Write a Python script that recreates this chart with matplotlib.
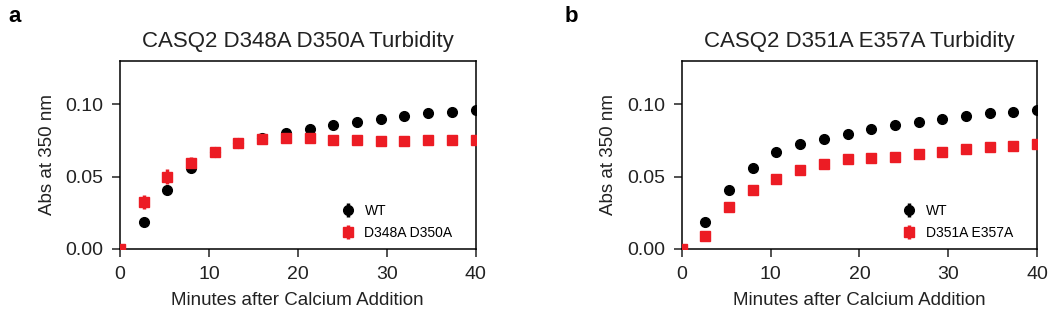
import matplotlib
matplotlib.use("Agg")
import matplotlib.pyplot as plt

plt.rcParams['font.family'] = ['Liberation Sans', 'DejaVu Sans']

# time points (minutes after calcium addition)
minutes = [0, 2.67, 5.33, 8.0, 10.67, 13.33, 16.0, 18.67, 21.33, 24.0,
           26.67, 29.33, 32.0, 34.67, 37.33, 40.0]

# panel a
wt_a = [0.0, 0.0188, 0.0407, 0.0563, 0.0668, 0.0731, 0.0765, 0.0802, 0.0830, 0.0857,
        0.0878, 0.0897, 0.0920, 0.0938, 0.0950, 0.0962]
wt_a_err = [0.0, 0.001, 0.001, 0.001, 0.001, 0.001, 0.001, 0.001, 0.001, 0.001,
            0.001, 0.001, 0.001, 0.001, 0.001, 0.001]
mut_a = [0.0, 0.0326, 0.0500, 0.0598, 0.0671, 0.0733, 0.0761, 0.0770, 0.0768, 0.0756,
         0.0752, 0.0747, 0.0750, 0.0752, 0.0752, 0.0755]
mut_a_err = [0.0, 0.005, 0.005, 0.0035, 0.003, 0.0025, 0.0015, 0.0015, 0.001, 0.001,
             0.001, 0.001, 0.001, 0.001, 0.001, 0.001]

# panel b
wt_b = [0.0, 0.0188, 0.0407, 0.0563, 0.0669, 0.0729, 0.0763, 0.0798, 0.0828, 0.0855,
        0.0878, 0.0899, 0.0920, 0.0938, 0.0950, 0.0962]
wt_b_err = wt_a_err
mut_b = [0.0, 0.0092, 0.0287, 0.0405, 0.0483, 0.0543, 0.0589, 0.0625, 0.0632, 0.0637,
         0.0655, 0.0671, 0.0688, 0.0702, 0.0714, 0.0726]
mut_b_err = [0.0, 0.001, 0.001, 0.0025, 0.001, 0.001, 0.001, 0.002, 0.001, 0.001,
             0.001, 0.001, 0.001, 0.001, 0.001, 0.001]

panels = [
    ("a", "CASQ2 D348A D350A Turbidity", "D348A D350A", wt_a, wt_a_err, mut_a, mut_a_err),
    ("b", "CASQ2 D351A E357A Turbidity", "D351A E357A", wt_b, wt_b_err, mut_b, mut_b_err),
]

red = "#ec1c24"

fig = plt.figure(figsize=(10.5, 3.11), dpi=100)
lefts = [0.1143, 0.6492]
letter_x = [0.008, 0.538]

for i, (letter, title, mlabel, wt, wte, mut, mute) in enumerate(panels):
    ax = fig.add_axes([lefts[i], 0.1994, 0.3386, 0.6045])
    ax.errorbar(minutes, wt, yerr=wte, fmt="o", color="black", ms=7,
                elinewidth=2.5, capsize=0, label="WT", zorder=3)
    ax.errorbar(minutes, mut, yerr=mute, fmt="s", color=red, ms=6.5,
                elinewidth=2.5, capsize=0, label=mlabel, zorder=4)
    ax.set_xlim(0, 40)
    ax.set_ylim(0, 0.13)
    ax.set_xticks([0, 10, 20, 30, 40])
    ax.set_yticks([0.0, 0.05, 0.10])
    ax.set_yticklabels(["0.00", "0.05", "0.10"])
    ax.tick_params(direction="out", length=6, width=1.1, labelsize=14, pad=6,
                   colors="#222222")
    for s in ax.spines.values():
        s.set_linewidth(1.1)
    ax.set_title(title, fontsize=16, pad=10, color="#222222")
    ax.set_xlabel("Minutes after Calcium Addition", fontsize=13.5, labelpad=7,
                  color="#222222")
    ax.set_ylabel("Abs at 350 nm", fontsize=13.5, labelpad=7, color="#222222")
    ax.legend(loc="lower left", bbox_to_anchor=(0.59, -0.02), frameon=False,
              fontsize=10, handlelength=0.8, handletextpad=0.8, labelspacing=0.6)
    fig.text(letter_x[i], 0.93, letter, fontsize=16, fontweight="bold")

fig.savefig("out.png", dpi=100)
